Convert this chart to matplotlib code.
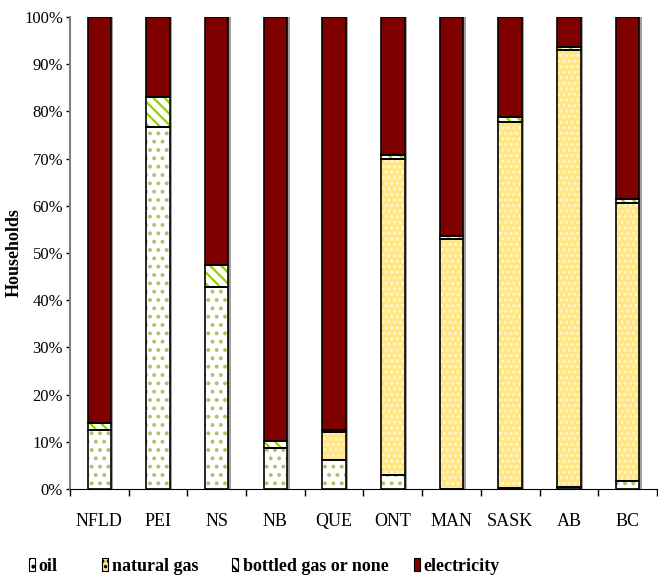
import matplotlib
matplotlib.use("Agg")
import matplotlib.pyplot as plt
import numpy as np
from matplotlib.patches import Rectangle

categories = ["NFLD", "PEI", "NS", "NB", "QUE", "ONT", "MAN", "SASK", "AB", "BC"]
oil = [12.5, 76.7, 42.9, 8.7, 6.1, 3.0, 0.0, 0.3, 0.4, 1.7]
natural_gas = [0.0, 0.0, 0.0, 0.0, 6.0, 67.0, 52.9, 77.4, 92.7, 59.0]
bottled = [1.5, 6.3, 4.5, 1.5, 0.3, 0.7, 0.8, 1.1, 0.6, 0.7]
electricity = [100 - o - g - b for o, g, b in zip(oil, natural_gas, bottled)]
series_names = ["oil", "natural gas", "bottled gas or none", "electricity"]
yticks = [0, 10, 20, 30, 40, 50, 60, 70, 80, 90, 100]

plt.rcParams['font.family'] = ['Liberation Serif', 'DejaVu Serif']
plt.rcParams['hatch.linewidth'] = 1.6

W, H = 658, 577
fig = plt.figure(figsize=(W / 100, H / 100), dpi=100)
ax = fig.add_axes([0.1064, 0.1525, 0.892, 0.818])

x = np.arange(len(categories))
w = 0.4
styles = [
    dict(face="white", hcol="#b5bf6a", hatch=".."),
    dict(face="#ffe680", hcol="#fff6d0", hatch="..."),
    dict(face="white", hcol="#9acd00", hatch="\\\\\\"),
    dict(face="#800000", hcol="#800000", hatch=None),
]
data = [oil, natural_gas, bottled, electricity]
bottom = np.zeros(len(categories))
for vals, st in zip(data, styles):
    vals = np.array(vals)
    ax.bar(x + 0.04, vals, w, bottom=bottom, color="#a0a0a0", linewidth=0, zorder=1)
    ax.bar(x, vals, w, bottom=bottom, facecolor=st["face"], edgecolor=st["hcol"],
           hatch=st["hatch"], linewidth=0, zorder=2)
    ax.bar(x, vals, w, bottom=bottom, facecolor="none", edgecolor="black",
           linewidth=1.2, zorder=3)
    bottom += vals

ax.set_xlim(-0.5, len(categories) - 0.5)
ax.set_ylim(0, 100)
ax.set_yticks(yticks)
ax.set_yticklabels([f"{t}%" for t in yticks], fontsize=12)
ax.set_xticks(x)
ax.set_xticklabels(categories, fontsize=13)
ax.tick_params(axis='x', which='major', length=0, pad=17)
ax.set_xticks(np.arange(-0.5, len(categories), 1.0), minor=True)
ax.tick_params(axis='x', which='minor', length=5, direction='out', width=1)
ax.tick_params(axis='y', length=3, direction='out', width=1, pad=2)
for s in ["top", "right"]:
    ax.spines[s].set_visible(False)
ax.spines["left"].set_color("#808080")
ax.spines["left"].set_linewidth(1.5)
ax.spines["bottom"].set_color("black")
ax.set_ylabel("Households", fontsize=13, fontweight="bold")
ax.yaxis.set_label_coords((23 - 70) / 587, 0.5)

# legend drawn manually (pixel positions converted to figure fraction)
box_x = [29, 102, 232, 414]
text_x = [38, 112, 243, 423]
for name, st, bx, tx in zip(series_names, styles, box_x, text_x):
    r = Rectangle((bx / W, 1 - 571 / H), 6 / W, 13 / H, transform=fig.transFigure,
                  facecolor=st["face"], edgecolor="black", hatch=st["hatch"], linewidth=0.8)
    fig.add_artist(r)
    fig.text(tx / W, 1 - 571 / H, name, fontsize=13, fontweight="bold",
             ha="left", va="baseline")

fig.savefig("out.png", dpi=100)
